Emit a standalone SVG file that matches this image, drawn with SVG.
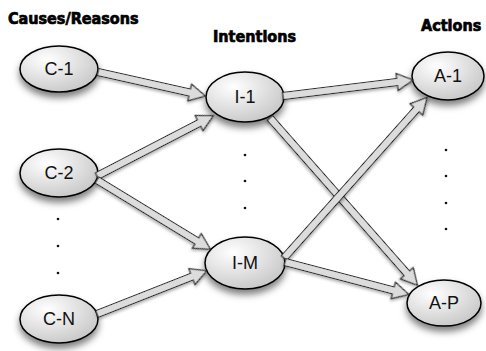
<svg xmlns="http://www.w3.org/2000/svg" width="486" height="351" viewBox="0 0 486 351">
<defs>
<radialGradient id="g" cx="0.35" cy="0.3" r="0.8">
<stop offset="0" stop-color="#ffffff"/>
<stop offset="1" stop-color="#c4c4c4"/>
</radialGradient>
<filter id="sh" x="-30%" y="-30%" width="160%" height="180%">
<feDropShadow dx="0" dy="5" stdDeviation="3.5" flood-color="#000" flood-opacity="0.5"/>
</filter>
<filter id="ash" x="-10%" y="-50%" width="120%" height="200%">
<feDropShadow dx="0" dy="2" stdDeviation="1.5" flood-color="#000" flood-opacity="0.3"/>
</filter>
</defs>
<style>
.n ellipse{fill:url(#g);stroke:#000;stroke-width:1.5;filter:url(#sh)}
.n text{font-family:"Liberation Sans",Arial,sans-serif;font-size:18px;fill:#111;text-anchor:middle}
.t{font-family:"DejaVu Sans",sans-serif;font-stretch:condensed;font-weight:bold;font-size:16px;fill:#000;stroke:#000;stroke-width:0.7}
.a path{fill:#dcdcdc;stroke:#222;stroke-width:1.1;stroke-linejoin:miter;filter:url(#ash)}
.d{fill:#111}
</style>
<text class="t" x="8" y="24">Causes/Reasons</text>
<text class="t" x="213" y="42">Intentions</text>
<text class="t" x="421" y="31">Actions</text>

<g id="nodes">
<g id="C-1" class="n"><ellipse cx="59" cy="69" rx="39" ry="23"/><text x="59" y="75">C-1</text></g>
<g id="C-2" class="n"><ellipse cx="59" cy="173" rx="39" ry="24"/><text x="59" y="179">C-2</text></g>
<g id="C-N" class="n"><ellipse cx="59" cy="319" rx="39" ry="24"/><text x="59" y="325">C-N</text></g>
<g id="I-1" class="n"><ellipse cx="245" cy="97" rx="39" ry="25"/><text x="245" y="103">I-1</text></g>
<g id="I-M" class="n"><ellipse cx="245" cy="263" rx="40" ry="26"/><text x="245" y="269">I-M</text></g>
<g id="A-1" class="n"><ellipse cx="448" cy="76" rx="36" ry="24"/><text x="448" y="82">A-1</text></g>
<g id="A-P" class="n"><ellipse cx="444" cy="303" rx="37" ry="23"/><text x="444" y="309">A-P</text></g>
</g>

<g id="dots">
<circle class="d" cx="58" cy="219" r="1.3"/><circle class="d" cx="58" cy="246" r="1.3"/><circle class="d" cx="58" cy="273" r="1.3"/>
<circle class="d" cx="245" cy="155" r="1.3"/><circle class="d" cx="245" cy="181" r="1.3"/><circle class="d" cx="245" cy="208" r="1.3"/>
<circle class="d" cx="446" cy="150" r="1.3"/><circle class="d" cx="446" cy="176" r="1.3"/><circle class="d" cx="446" cy="203" r="1.3"/><circle class="d" cx="446" cy="229" r="1.3"/>
</g>

<g id="connectors" class="a">
<path transform="translate(98,72) rotate(12.6)" d="M0,-3.5 L94,-3.5 L94,-8.5 L110,0 L94,8.5 L94,3.5 L0,3.5 Z"/>
<path transform="translate(97,176) rotate(-27.4)" d="M0,-3.5 L115,-3.5 L115,-8.5 L131,0 L115,8.5 L115,3.5 L0,3.5 Z"/>
<path transform="translate(97,180) rotate(31.4)" d="M0,-3.5 L117,-3.5 L117,-8.5 L133,0 L117,8.5 L117,3.5 L0,3.5 Z"/>
<path transform="translate(97,314) rotate(-21.5)" d="M0,-3.5 L102,-3.5 L102,-8.5 L118,0 L102,8.5 L102,3.5 L0,3.5 Z"/>
<path transform="translate(283,96) rotate(-7.0)" d="M0,-3.5 L115,-3.5 L115,-8.5 L131,0 L115,8.5 L115,3.5 L0,3.5 Z"/>
<path transform="translate(270,118) rotate(48.6)" d="M0,-3.5 L207,-3.5 L207,-8.5 L223,0 L207,8.5 L207,3.5 L0,3.5 Z"/>
<path transform="translate(284,258) rotate(-48.3)" d="M0,-3.5 L199,-3.5 L199,-8.5 L215,0 L199,8.5 L199,3.5 L0,3.5 Z"/>
<path transform="translate(285,262) rotate(14.7)" d="M0,-3.5 L112,-3.5 L112,-8.5 L128,0 L112,8.5 L112,3.5 L0,3.5 Z"/>
</g>
</svg>
